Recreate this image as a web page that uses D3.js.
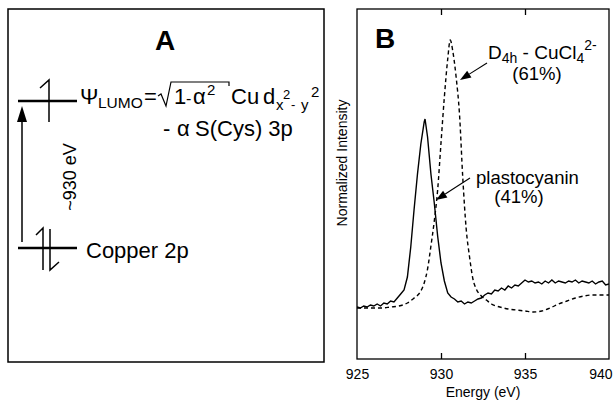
<!DOCTYPE html>
<html>
<head>
<meta charset="utf-8">
<script src="https://cdn.jsdelivr.net/npm/d3@7/dist/d3.min.js"></script>
<style>
  html, body { margin: 0; padding: 0; background: #fff; }
  svg { display: block; }
  text { font-family: "Liberation Sans", Arial, Helvetica, sans-serif; fill: #000; }
</style>
</head>
<body>
<svg id="fig" width="613" height="402"></svg>
<script>
// Cu L-edge spectra (panel B): energy in eV, normalized intensity (arb. units)
const plastoEnergy = [925.0,925.2,925.4,925.6,925.8,926.0,926.2,926.4,926.6,926.8,927.0,927.2,927.4,927.6,927.8,928.0,928.2,928.4,928.6,928.8,929.0,929.05,929.2,929.4,929.6,929.8,930.0,930.2,930.4,930.6,930.8,931.0,931.2,931.4,931.6,931.8,932.0,932.2,932.4,932.6,932.8,933.0,933.2,933.4,933.6,933.8,934.0,934.2,934.4,934.6,934.8,935.0,935.2,935.4,935.6,935.8,936.0,936.2,936.4,936.6,936.8,937.0,937.2,937.4,937.6,937.8,938.0,938.2,938.4,938.6,938.8,939.0,939.2,939.4,939.6,939.8,940.0];
const plastoIntensity = [0.52,0.51,0.53,0.52,0.54,0.53,0.55,0.53,0.56,0.55,0.58,0.57,0.61,0.65,0.69,0.82,1.12,1.50,1.85,2.15,2.37,2.40,2.22,1.85,1.56,1.23,0.96,0.78,0.66,0.62,0.60,0.57,0.58,0.55,0.57,0.56,0.58,0.60,0.61,0.64,0.66,0.65,0.69,0.68,0.71,0.69,0.73,0.71,0.74,0.73,0.76,0.79,0.77,0.78,0.76,0.77,0.75,0.78,0.76,0.79,0.76,0.78,0.77,0.76,0.78,0.77,0.79,0.76,0.78,0.77,0.76,0.78,0.75,0.77,0.78,0.74,0.75];

const cuclEnergy = [925.0,925.5,926.0,926.5,927.0,927.5,928.0,928.4,928.8,929.0,929.2,929.4,929.6,929.8,930.0,930.2,930.4,930.55,930.7,930.9,931.1,931.3,931.5,931.7,931.9,932.1,932.4,932.7,933.0,933.5,934.0,934.5,935.0,935.5,936.0,936.5,937.0,937.5,938.0,938.5,939.0,939.5,940.0];
const cuclIntensity = [0.51,0.51,0.51,0.51,0.52,0.53,0.56,0.61,0.68,0.76,0.90,1.13,1.38,1.69,2.16,2.62,3.00,3.19,3.08,2.82,2.45,1.80,1.30,1.02,0.80,0.70,0.63,0.59,0.55,0.52,0.50,0.49,0.48,0.47,0.48,0.51,0.55,0.58,0.61,0.63,0.64,0.64,0.64];

const xTicks = [925, 930, 935, 940];
const innerTicks = [930, 935];

const svg = d3.select("#fig");

// ---------- Panel A: energy-level scheme ----------
const A = svg.append("g");
A.append("rect").attr("x", 8).attr("y", 9).attr("width", 316).attr("height", 353)
  .attr("fill", "none").attr("stroke", "#000").attr("stroke-width", 1.5);
A.append("text").attr("x", 165).attr("y", 50).attr("text-anchor", "middle")
  .attr("font-size", 28).attr("font-weight", "bold").text("A");

const lvl = A.append("g").attr("stroke", "#000").attr("fill", "none");
// LUMO level with one electron (half-arrow)
lvl.append("line").attr("x1", 18).attr("x2", 77).attr("y1", 101).attr("y2", 101).attr("stroke-width", 2.5);
lvl.append("path").attr("d", "M40,88 L49,80 L49,122").attr("stroke-width", 1.5);
// Cu 2p level, filled
lvl.append("line").attr("x1", 18).attr("x2", 77).attr("y1", 248).attr("y2", 248).attr("stroke-width", 2.5);
lvl.append("path").attr("d", "M36,235 L43,228 L43,270").attr("stroke-width", 1.5);
lvl.append("path").attr("d", "M50,229 L50,270 L59,262").attr("stroke-width", 1.5);
// excitation arrow
lvl.append("line").attr("x1", 22).attr("x2", 22).attr("y1", 242).attr("y2", 120).attr("stroke-width", 1.5);
A.append("path").attr("d", "M22,106 L17,122 L27,122 Z").attr("fill", "#000");
A.append("text").attr("transform", "translate(76,177) rotate(-90)")
  .attr("text-anchor", "middle").attr("font-size", 18).text("~930 eV");

// wavefunction expression
const f = A.append("g");
function t(px, py, s, str) { return f.append("text").attr("x", px).attr("y", py).attr("font-size", s).text(str); }
t(80, 104, 22, "Ψ");
t(98, 108, 15.5, "LUMO");
t(144, 104, 22, "=");
f.append("path").attr("d", "M158,96 L161,94 L166,106 L171,82 L229,82 L229,86")
  .attr("fill", "none").attr("stroke", "#000").attr("stroke-width", 1.2);
t(174, 104, 22, "1");
t(186, 104, 16, "-");
t(193, 104, 22, "α");
t(207, 95, 15, "2");
t(231, 104, 22, "Cu");
t(263, 104, 22, "d");
t(276, 110, 15, "x");
t(283, 99, 13, "2");
t(291, 109, 13, "-");
t(301, 110, 15, "y");
t(311, 97, 15, "2");
t(163, 136, 22, "-");
t(177, 136, 22, "α");
t(195, 136, 22, "S(Cys) 3p");
A.append("text").attr("x", 86).attr("y", 258).attr("font-size", 22).text("Copper 2p");

// ---------- Panel B: spectra ----------
const pLeft = 357, pRight = 609, pTop = 9, pBottom = 359;
const x = d3.scaleLinear().domain([925, 940]).range([pLeft, pRight]);
const y = d3.scaleLinear().domain([0, 3.5]).range([pBottom, pTop]);

const B = svg.append("g");
B.append("defs").append("clipPath").attr("id", "plotclip")
  .append("rect").attr("x", pLeft).attr("y", pTop).attr("width", pRight - pLeft).attr("height", pBottom - pTop);

B.append("rect").attr("x", pLeft).attr("y", pTop).attr("width", pRight - pLeft).attr("height", pBottom - pTop)
  .attr("fill", "none").attr("stroke", "#000").attr("stroke-width", 1.3);

const xb = d3.axisBottom(x).tickValues(xTicks).tickSize(0).tickPadding(10).tickFormat(d3.format("d"));
const gx = B.append("g").attr("transform", `translate(0,${pBottom})`).call(xb);
gx.select(".domain").remove();
gx.selectAll("text").attr("font-size", 14).attr("fill", "#000")
  .style("font-family", "'Liberation Sans', Arial, sans-serif");
// keep the last label inside the page edge
gx.selectAll(".tick").filter(d => d === 940).select("text")
  .attr("text-anchor", "end").attr("x", 612 - x(940));

// inward ticks on top and bottom edges
B.append("g").attr("transform", `translate(0,${pTop})`)
  .call(d3.axisTop(x).tickValues(innerTicks).tickSize(-6).tickFormat(""))
  .call(g => g.select(".domain").remove())
  .selectAll("line").attr("stroke-width", 1.3);
B.append("g").attr("transform", `translate(0,${pBottom})`)
  .call(d3.axisBottom(x).tickValues(innerTicks).tickSize(-6).tickFormat(""))
  .call(g => g.select(".domain").remove())
  .selectAll("line").attr("stroke-width", 1.3);

B.append("text").attr("x", (pLeft + pRight) / 2).attr("y", 397).attr("text-anchor", "middle")
  .attr("font-size", 14).text("Energy (eV)");
B.append("text").attr("transform", "translate(347,163) rotate(-90)").attr("text-anchor", "middle")
  .attr("font-size", 14).text("Normalized Intensity");

const plot = B.append("g").attr("clip-path", "url(#plotclip)");
const cucl = cuclEnergy.map((e, i) => [e, cuclIntensity[i]]);
const plasto = plastoEnergy.map((e, i) => [e, plastoIntensity[i]]);

plot.append("path").datum(cucl)
  .attr("d", d3.line().x(d => x(d[0])).y(d => y(d[1])).curve(d3.curveMonotoneX))
  .attr("fill", "none").attr("stroke", "#000").attr("stroke-width", 1.4).attr("stroke-dasharray", "4,3");
plot.append("path").datum(plasto)
  .attr("d", d3.line().x(d => x(d[0])).y(d => y(d[1])))
  .attr("fill", "none").attr("stroke", "#000").attr("stroke-width", 1.4);

B.append("text").attr("x", 375).attr("y", 48).attr("font-size", 28).attr("font-weight", "bold").text("B");

// callouts
function arrow(x1, y1, x2, y2) {
  const a = Math.atan2(y2 - y1, x2 - x1), L = 11, W = 4;
  const bx = x2 - L * Math.cos(a), by = y2 - L * Math.sin(a);
  B.append("line").attr("x1", x1).attr("y1", y1).attr("x2", bx).attr("y2", by)
    .attr("stroke", "#000").attr("stroke-width", 1.1);
  B.append("path").attr("d", `M${x2},${y2} L${bx + W * Math.sin(a)},${by - W * Math.cos(a)} L${bx - W * Math.sin(a)},${by + W * Math.cos(a)} Z`)
    .attr("fill", "#000");
}
arrow(487, 63, 460, 80);
arrow(470, 178, 436, 200);

const lab = B.append("text").attr("x", 488).attr("y", 59).attr("font-size", 19);
lab.append("tspan").text("D");
lab.append("tspan").attr("font-size", 14).attr("dy", 4).text("4h");
lab.append("tspan").attr("dy", -4).text(" - CuCl");
lab.append("tspan").attr("font-size", 14).attr("dy", 4).text("4");
lab.append("tspan").attr("font-size", 14).attr("dy", -13).text("2-");
B.append("text").attr("x", 537).attr("y", 80).attr("text-anchor", "middle").attr("font-size", 18.5).text("(61%)");
B.append("text").attr("x", 476).attr("y", 184).attr("font-size", 18.5).text("plastocyanin");
B.append("text").attr("x", 519).attr("y", 203).attr("text-anchor", "middle").attr("font-size", 18.5).text("(41%)");
</script>
</body>
</html>
